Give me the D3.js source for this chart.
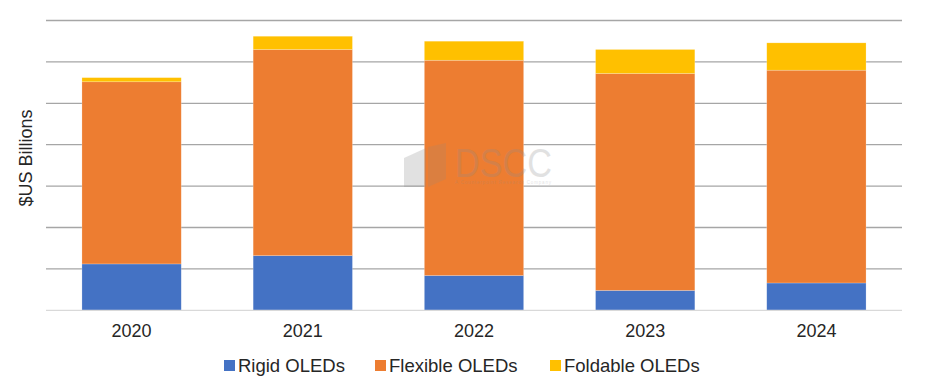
<!DOCTYPE html>
<html>
<head>
<meta charset="utf-8">
<script src="https://cdn.jsdelivr.net/npm/d3@7"></script>
<style>
  body { margin: 0; background: #fff; }
  text { font-family: "Liberation Sans", Arial, sans-serif; }
</style>
</head>
<body>
<div id="chart"></div>
<script>
// data ($US billions)
const years = ["2020", "2021", "2022", "2023", "2024"];
const seriesNames = ["Rigid OLEDs", "Flexible OLEDs", "Foldable OLEDs"];
const rigid = [5.6, 6.6, 4.2, 2.4, 3.3];
const flexible = [22.0, 24.9, 26.0, 26.2, 25.7];
const foldable = [0.5, 1.6, 2.3, 2.9, 3.3];
const yTicks = [0, 5, 10, 15, 20, 25, 30, 35];
const colors = ["#4472C4", "#ED7D31", "#FFC000"];

const width = 939, height = 390;
const margin = { top: 20, right: 37, bottom: 80, left: 46 };

const svg = d3.select("#chart").append("svg")
  .attr("width", width)
  .attr("height", height);

const x = d3.scaleBand()
  .domain(years)
  .range([margin.left, width - margin.right])
  .paddingInner(0.42)
  .paddingOuter(0.21);

const y = d3.scaleLinear()
  .domain([0, 35])
  .range([310.3, 20.5]);

// gridlines
svg.append("g")
  .selectAll("line")
  .data(yTicks.slice(1))
  .join("line")
  .attr("x1", margin.left)
  .attr("x2", width - margin.right)
  .attr("y1", d => y(d))
  .attr("y2", d => y(d))
  .attr("stroke", "#a6a6a6")
  .attr("stroke-width", 1.3);

/*** stacked bars ***/
const rows = years.map((yr, i) => ({
  year: yr,
  "Rigid OLEDs": rigid[i],
  "Flexible OLEDs": flexible[i],
  "Foldable OLEDs": foldable[i]
}));
const stacked = d3.stack().keys(seriesNames)(rows);

svg.append("g")
  .selectAll("g")
  .data(stacked)
  .join("g")
  .attr("fill", (d, i) => colors[i])
  .selectAll("rect")
  .data(d => d)
  .join("rect")
  .attr("x", d => x(d.data.year))
  .attr("width", x.bandwidth())
  .attr("y", d => y(d[1]))
  .attr("height", d => y(d[0]) - y(d[1]))
  .attr("stroke", "#ffffff")
  .attr("stroke-opacity", 0.35)
  .attr("stroke-width", 0.6);

// watermark
const wm = svg.append("g").attr("opacity", 0.25).attr("fill", "#8c8c8c");
wm.append("path").attr("d", "M404,158 L426,148 L426,187 L404,187 Z");
wm.append("path").attr("d", "M428,147 L446,143 L446,179 L428,187 Z").attr("opacity", 0.7);
wm.append("text")
  .attr("x", 455).attr("y", 177)
  .attr("font-size", 41)
  .attr("textLength", 97)
  .attr("lengthAdjust", "spacingAndGlyphs")
  .text("DSCC");
wm.append("text")
  .attr("x", 455).attr("y", 184)
  .attr("font-size", 4.5)
  .attr("textLength", 96)
  .text("A Counterpoint Research Company");

// baseline
svg.append("line")
  .attr("x1", margin.left)
  .attr("x2", width - margin.right)
  .attr("y1", y(0))
  .attr("y2", y(0))
  .attr("stroke", "#d9d9d9")
  .attr("stroke-width", 1.3);

// x labels
const xAxis = d3.axisBottom(x).tickSize(0).tickPadding(0);
svg.append("g")
  .attr("transform", `translate(0,${y(0)})`)
  .call(xAxis)
  .call(g => g.select(".domain").remove())
  .selectAll("text")
  .attr("dy", null)
  .attr("y", 27)
  .attr("font-size", 18)
  .attr("font-family", "Liberation Sans, Arial, sans-serif")
  .attr("fill", "#262626");

// y title
svg.append("text")
  .attr("transform", "translate(32,158) rotate(-90)")
  .attr("text-anchor", "middle")
  .attr("font-size", 18)
  .attr("fill", "#262626")
  .text("$US Billions");

/*** legend ***/
const legendX = [224, 375, 550];
const legend = svg.append("g")
  .selectAll("g")
  .data(seriesNames)
  .join("g")
  .attr("transform", (d, i) => `translate(${legendX[i]},360)`);

legend.append("rect")
  .attr("width", 11).attr("height", 11)
  .attr("fill", (d, i) => colors[i]);

legend.append("text")
  .attr("x", 14).attr("y", 12)
  .attr("font-size", 18.5)
  .attr("fill", "#262626")
  .text(d => d);
</script>
</body>
</html>
